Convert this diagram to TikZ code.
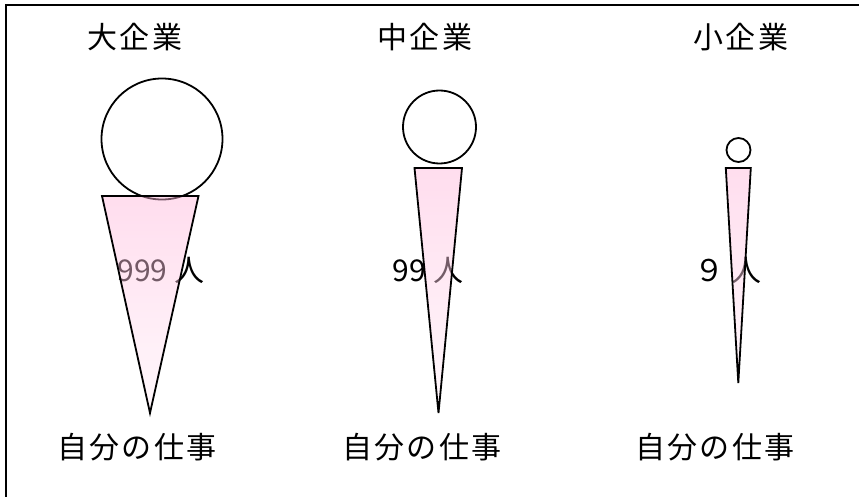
\documentclass[tikz,border=0pt]{standalone}
\usepackage{fontspec}
\newfontfamily\jp[LetterSpace=7]{Noto Sans CJK JP}
\newfontfamily\jpn{Noto Sans CJK JP}
\begin{document}
\begin{tikzpicture}[x=1pt,y=-1pt,
  lbl/.style={font=\jp\fontsize{30}{33}\selectfont, inner sep=0pt, anchor=center},
  cnt/.style={font=\jpn\fontsize{30}{33}\selectfont, inner sep=0pt, anchor=center},
  head/.style={circle, draw=black, line width=1.8pt, fill=white, inner sep=0pt},
  cone/.style={top color=pinktop, bottom color=pinkbot, fill opacity=0.45}]
\definecolor{pinktop}{RGB}{255,180,217}
\definecolor{pinkbot}{RGB}{255,240,248}
\useasboundingbox (0,0) rectangle (859,497);
\begin{scope}
\clip (0,0) rectangle (859,497);
\draw[line width=1.8pt] (6,5) rectangle (880,520);
\end{scope}
% titles
\node[lbl] (t1) at (135,37) {大企業};
\node[lbl] (t2) at (425,37) {中企業};
\node[lbl] (t3) at (741,37) {小企業};
% bottom labels
\node[lbl] (b1) at (137,447) {自分の仕事};
\node[lbl] (b2) at (422,447) {自分の仕事};
\node[lbl] (b3) at (715,447) {自分の仕事};
% counts
\node[cnt] (c1) at (161,270) {999 人};
\node[cnt] (c2) at (428,270) {99 人};
\node[cnt] (c3) at (728,270) {９ 人};
% heads
\node[head, minimum size=121pt] (h1) at (162,139) {};
\node[head, minimum size=73pt] (h2) at (439.5,127) {};
\node[head, minimum size=24pt] (h3) at (738.5,150) {};
% cones
\coordinate (a1) at (102,196); \coordinate (d1) at (198.5,196); \coordinate (p1) at (150,413);
\coordinate (a2) at (414.5,168); \coordinate (d2) at (462,168); \coordinate (p2) at (438.5,413);
\coordinate (a3) at (725.8,168); \coordinate (d3) at (750.8,168); \coordinate (p3) at (738.3,383);
\path[cone] (a1) -- (d1) -- (p1) -- cycle;
\path[cone] (a2) -- (d2) -- (p2) -- cycle;
\path[cone] (a3) -- (d3) -- (p3) -- cycle;
\draw[line width=1.8pt, line join=miter] (a1) -- (d1) -- (p1) -- cycle;
\draw[line width=1.8pt, line join=miter] (a2) -- (d2) -- (p2) -- cycle;
\draw[line width=1.8pt, line join=miter] (a3) -- (d3) -- (p3) -- cycle;
\end{tikzpicture}
\end{document}
